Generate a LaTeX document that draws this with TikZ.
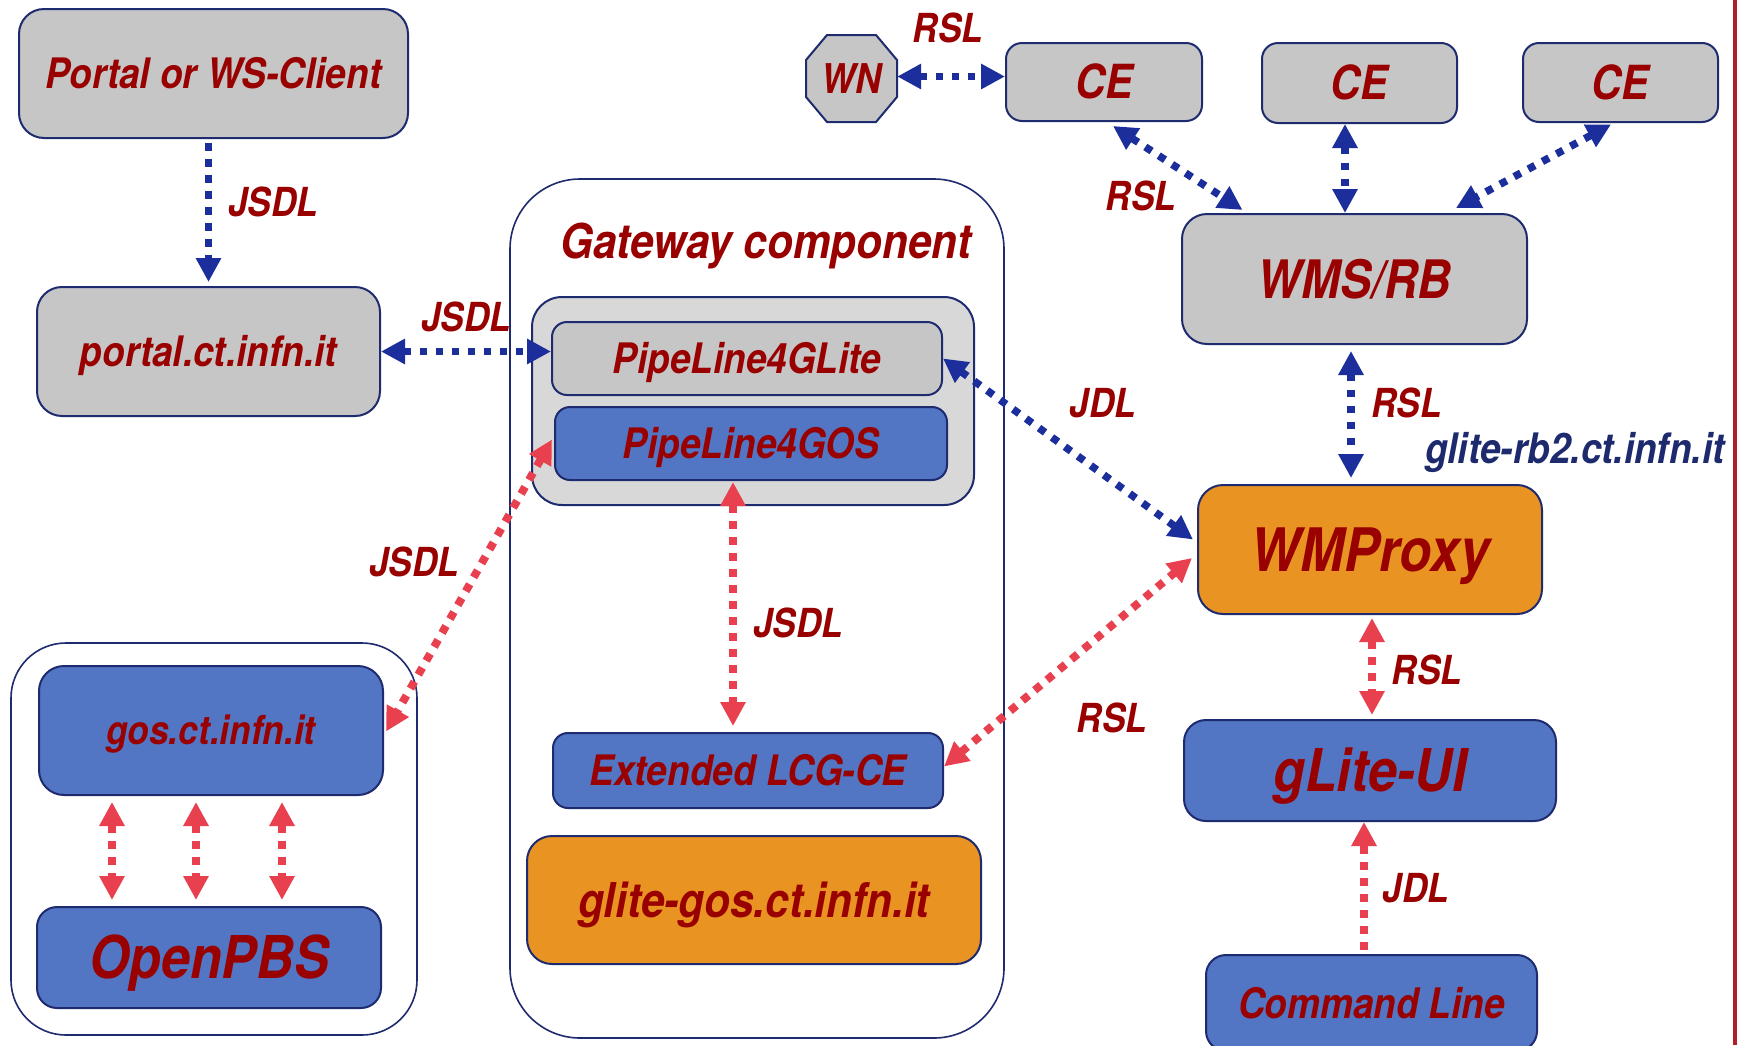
\documentclass[tikz,border=0pt]{standalone}
\usepackage{fontspec}
\setmainfont{TeX Gyre Heros}[FakeStretch=0.88]
\usetikzlibrary{arrows.meta,calc}
\definecolor{bordr}{HTML}{1F2B6F}
\definecolor{txtred}{HTML}{990000}
\definecolor{boxgray}{HTML}{C6C6C6}
\definecolor{innergray}{HTML}{D8D8D8}
\definecolor{boxblue}{HTML}{5275C4}
\definecolor{boxorange}{HTML}{E89322}
\definecolor{arrnavy}{HTML}{1B2E9B}
\definecolor{arrred}{HTML}{E8404F}
\definecolor{edgered}{HTML}{B01E28}
\definecolor{hostnavy}{HTML}{1E2A6E}
\tikzset{
  tri/.tip={Triangle[width=24pt,length=24pt]},
  fs/.style={font=\fontsize{#1}{#1}\selectfont\bfseries\itshape, text height={0.72*#1}, text depth=0pt},
  box/.style={draw=bordr, line width=2pt, rounded corners=#1, text=txtred, inner sep=0pt, align=center},
  graybox/.style={box=#1, fill=boxgray},
  bluebox/.style={box=#1, fill=boxblue},
  orangebox/.style={box=#1, fill=boxorange},
  groupbox/.style={draw=bordr, line width=1.6pt, rounded corners=#1, fill=white, inner sep=0pt},
  lab/.style={fs=40, text=txtred, inner sep=0pt},
  navyline/.style={draw=arrnavy, line width=7.5pt, dash pattern=on 7.5pt off 8.5pt},
  redline/.style={draw=arrred, line width=8pt, dash pattern=on 8pt off 8pt},
}
\begin{document}
\begin{tikzpicture}[x=1pt,y=-1pt]
\useasboundingbox (0,0) rectangle (1740,1045);
\clip (0,0) rectangle (1740,1045);
\fill[white] (0,0) rectangle (1740,1045);

% group containers
\node[groupbox=70pt, minimum width=494pt, minimum height=859pt] (gwouter) at (757,608.5) {};
\node[groupbox=55pt, minimum width=406pt, minimum height=392pt] (gosouter) at (214,839) {};

% left column
\node[graybox=25pt, minimum width=389pt, minimum height=129pt, fs=42] (portalws) at (213.5,73.5) {Portal or WS-Client};
\node[graybox=25pt, minimum width=343pt, minimum height=129pt, fs=42] (portalct) at (208.5,351.5) {portal.ct.infn.it};
\node[bluebox=25pt, minimum width=344pt, minimum height=129pt, fs=40] (gosct) at (211,730.5) {gos.ct.infn.it};
\node[bluebox=20pt, minimum width=344pt, minimum height=101pt, fs=59] (openpbs) at (209,957.5) {OpenPBS};

% gateway component
\node[lab, fs=48] (gwlabel) at (766,241) {Gateway component};
\node[box=30pt, fill=innergray, minimum width=442pt, minimum height=208pt] (gwinner) at (753,401) {};
\node[graybox=15pt, minimum width=390pt, minimum height=73pt, fs=42] (pl4glite) at (747,358.5) {PipeLine4GLite};
\node[bluebox=15pt, minimum width=392pt, minimum height=73pt, fs=42] (pl4gos) at (751,443.5) {PipeLine4GOS};
\node[bluebox=15pt, minimum width=390pt, minimum height=75pt, fs=42] (extlcg) at (748,770.5) {Extended LCG-CE};
\node[orangebox=25pt, minimum width=454pt, minimum height=128pt, fs=48] (glitegos) at (754,900) {glite-gos.ct.infn.it};

% top right
\coordinate (wnc) at (851.5,78.5);
\filldraw[fill=boxgray, draw=bordr, line width=2pt]
  ($(wnc)+(-45.5,-18.5)$) -- ($(wnc)+(-24.5,-43.5)$) -- ($(wnc)+(24.5,-43.5)$) -- ($(wnc)+(45.5,-18.5)$) --
  ($(wnc)+(45.5,18.5)$) -- ($(wnc)+(24.5,43.5)$) -- ($(wnc)+(-24.5,43.5)$) -- ($(wnc)+(-45.5,18.5)$) -- cycle;
\node[text=txtred, inner sep=0pt, minimum width=91pt, minimum height=87pt, fs=41] (wn) at (wnc) {WN};
\node[graybox=16pt, minimum width=196pt, minimum height=78pt, fs=47] (ce1) at (1104,82) {CE};
\node[graybox=16pt, minimum width=195pt, minimum height=80pt, fs=47] (ce2) at (1359.5,83) {CE};
\node[graybox=16pt, minimum width=195pt, minimum height=79pt, fs=47] (ce3) at (1620.5,82.5) {CE};
\node[graybox=25pt, minimum width=345pt, minimum height=130pt, fs=53] (wmsrb) at (1354.5,279) {WMS/RB};
\node[orangebox=25pt, minimum width=344pt, minimum height=129pt, fs=60] (wmproxy) at (1370,549.5) {WMProxy};
\node[bluebox=22pt, minimum width=372pt, minimum height=101pt, fs=59] (gliteui) at (1370,770.5) {gLite-UI};
\node[bluebox=20pt, minimum width=331pt, minimum height=96pt, fs=42] (cmdline) at (1371.5,1003) {Command Line};

% labels
\node[lab] (l1) at (948,28) {RSL};
\node[lab] (l2) at (273,202.5) {JSDL};
\node[lab] (l3) at (466,317) {JSDL};
\node[lab] (l4) at (1141,196) {RSL};
\node[lab] (l5) at (1103,403) {JDL};
\node[lab] (l6) at (1406.5,403) {RSL};
\node[lab, fs=42, text=hostnavy] (l7) at (1575,448) {glite-rb2.ct.infn.it};
\node[lab] (l8) at (414,562) {JSDL};
\node[lab] (l9) at (798,623) {JSDL};
\node[lab] (l10) at (1112,718.5) {RSL};
\node[lab] (l11) at (1427,670) {RSL};
\node[lab] (l12) at (1416,888) {JDL};

% helper x positions
\coordinate (x733) at (733,0);
\coordinate (xa) at (112,0);
\coordinate (xb) at (196,0);
\coordinate (xc) at (282,0);
\coordinate (x1345) at (1345,0);
\coordinate (x1351) at (1351,0);
\coordinate (x1372) at (1372,0);
\coordinate (x1364) at (1364,0);

% navy connectors
\draw[navyline, -tri, shorten <=4pt, shorten >=4pt] (portalct.north |- portalws.south) -- (portalct.north);
\draw[navyline, tri-tri] (portalct.east) -- (portalct.east -| pl4glite.west);
\draw[navyline, tri-tri] (pl4glite.east) -- ($(wmproxy.west)+(-4,-10)$);
\draw[navyline, tri-tri] ($(wn.east)+(0,-2)$) -- ($(wn.east -| ce1.west)+(0,-2)$);
\draw[navyline, tri-tri] ($(ce1.south)+(9,4)$) -- ($(wmsrb.north)+(-112,-3)$);
\draw[navyline, tri-tri] (x1345 |- ce2.south) -- (x1345 |- wmsrb.north);
\draw[navyline, tri-tri] ($(ce3.south)+(-9.5,1.5)$) -- ($(wmsrb.north)+(101.5,-5)$);
\draw[navyline, tri-tri, shorten <=6pt, shorten >=6pt] (x1351 |- wmsrb.south) -- (x1351 |- wmproxy.north);

% red connectors
\draw[redline, tri-tri, shorten <=1pt, shorten >=6pt] (x733 |- pl4gos.south) -- (x733 |- extlcg.north);
\draw[redline, tri-tri] ($(pl4gos.west)+(-2,-4)$) -- ($(gosct.east)+(2,1)$);
\draw[redline, tri-tri, shorten <=6pt, shorten >=6pt] (xa |- gosct.south) -- (xa |- openpbs.north);
\draw[redline, tri-tri, shorten <=6pt, shorten >=6pt] (xb |- gosct.south) -- (xb |- openpbs.north);
\draw[redline, tri-tri, shorten <=6pt, shorten >=6pt] (xc |- gosct.south) -- (xc |- openpbs.north);
\draw[redline, tri-tri, shorten <=3pt, shorten >=4pt] (x1372 |- wmproxy.south) -- (x1372 |- gliteui.north);
\draw[redline, -tri, shorten <=4pt] (x1364 |- cmdline.north) -- (x1364 |- gliteui.south);
\draw[redline, tri-tri] ($(extlcg.east)+(0,-4)$) -- ($(wmproxy.west)+(-5,8.5)$);

% right edge rule
\draw[edgered, line width=4pt] (1735,0) -- (1735,1045);
\end{tikzpicture}
\end{document}
